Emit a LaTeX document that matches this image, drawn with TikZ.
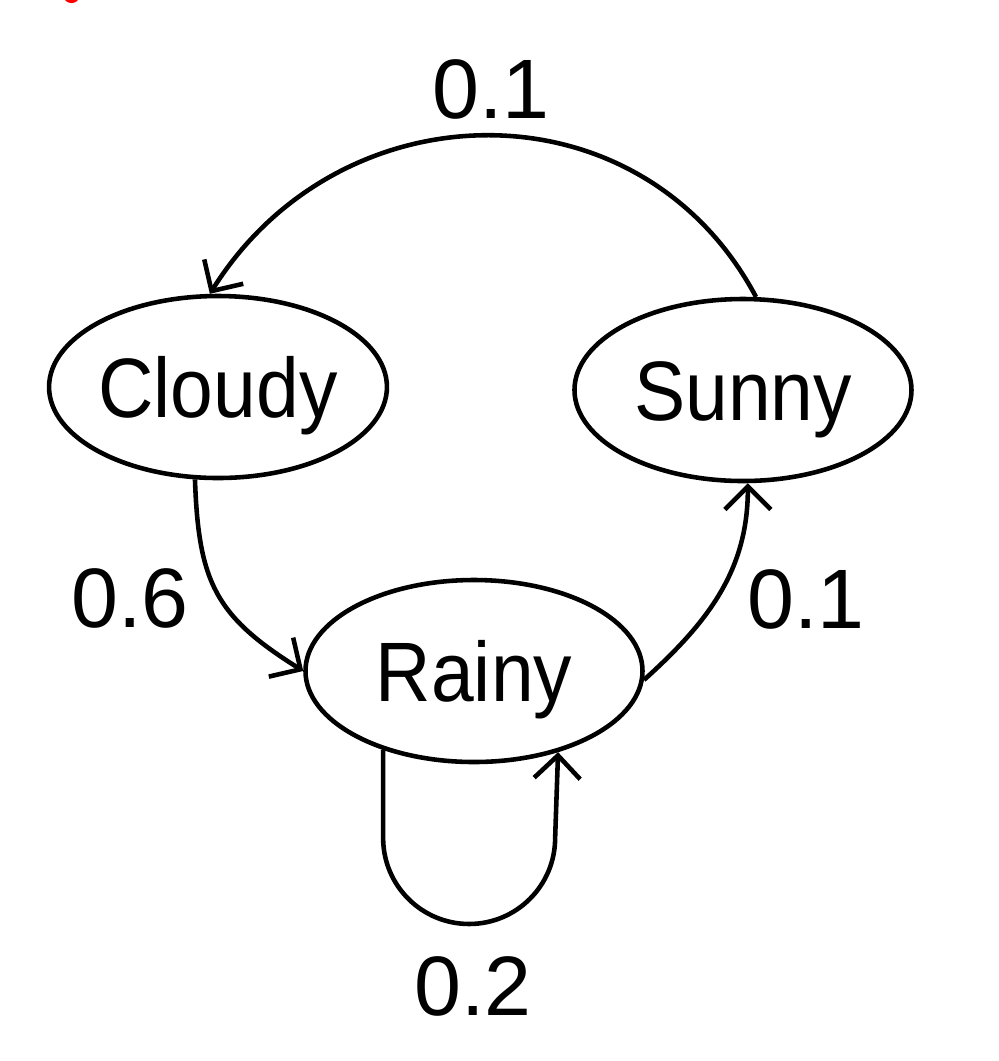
\documentclass[tikz,border=0pt]{standalone}
\usepackage{fontspec}
\setmainfont{Liberation Sans}
\newfontfamily\statefont{Liberation Sans}[FakeStretch=0.91]
\usetikzlibrary{shapes.geometric,arrows.meta}
\tikzstyle{state} = [draw=black, ellipse, line width=1.3pt, inner sep=0pt, text height=17.2pt, text depth=0pt, minimum width=3.37cm, minimum height=1.82cm, font={\statefont\fontsize{24}{28}\selectfont}]
\tikzstyle{prob} = [inner sep=0pt, font={\fontsize{24}{28}\selectfont}]
\tikzstyle{trans} = [line width=1.3pt, -{Straight Barb[length=2.3mm,width=4.6mm]}]

\begin{document}
\begin{tikzpicture}
    \useasboundingbox (0,0) rectangle (9.99,-10.61);
    \fill[red] (0.715,0.02) ellipse (0.07 and 0.05);
    \node[state](cloudy) at (2.18,-3.87){Cloudy};
    \node[state](sunny) at (7.43,-3.90){Sunny};
    \node[state](rainy) at (4.74,-6.71){Rainy};
    \node[prob](p1) at (4.91,-0.89){0.1};
    \node[prob](p2) at (1.30,-5.98){0.6};
    \node[prob](p3) at (8.06,-5.99){0.1};
    \node[prob](p4) at (4.73,-9.86){0.2};
    \draw[trans](sunny.82) to[out=118,in=58,looseness=1.15] (cloudy.95);
    \draw[trans](cloudy.256) to[out=-88,in=148,looseness=1.2] (rainy.west);
    \draw[trans](rainy.-3) to[out=42,in=-90,looseness=1] (sunny.-87);
    \draw[trans](rainy.221) -- ++(0,-0.88) arc[start angle=180,end angle=360,radius=0.86] -- (rainy.316);
  \end{tikzpicture}
\end{document}
